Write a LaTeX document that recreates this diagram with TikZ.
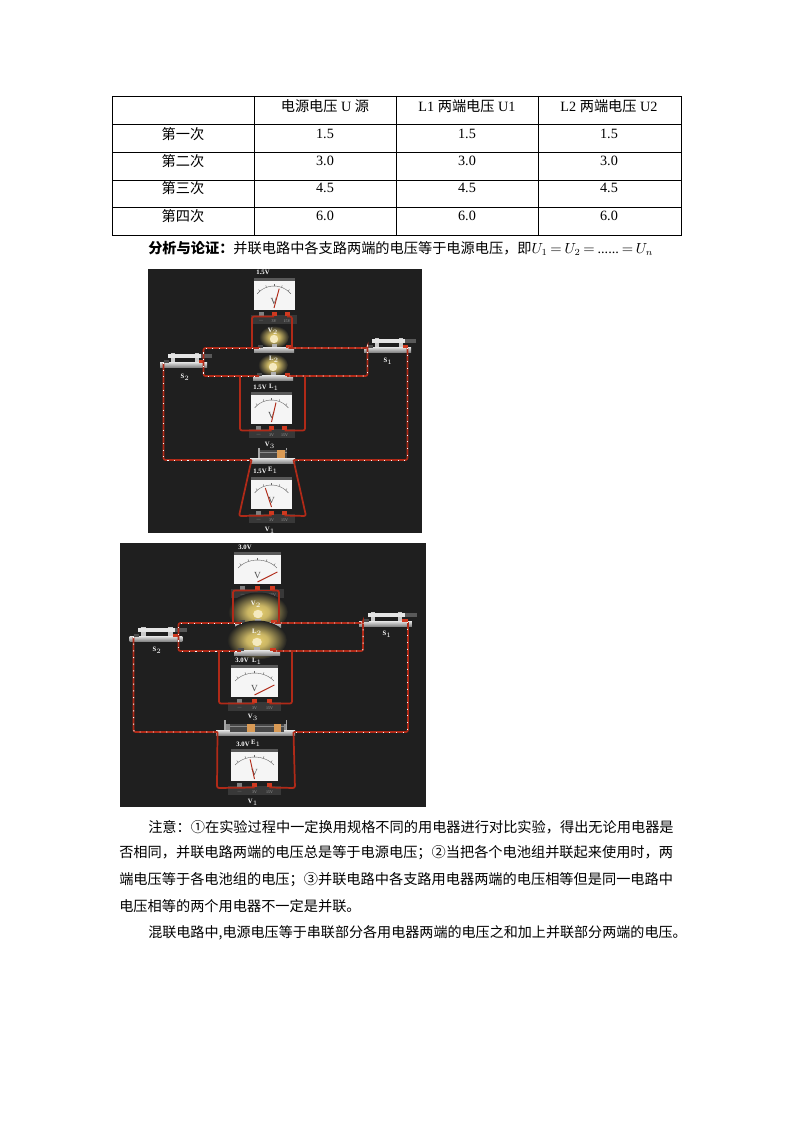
\documentclass[tikz,border=0pt]{standalone}
\usepackage{fontspec}
\setmainfont{Liberation Serif}
\newfontfamily\cjk{Noto Sans CJK SC}
\usepackage{tikz}
\definecolor{boardbg}{HTML}{1F1F1F}
\definecolor{wirered}{HTML}{B02A18}
\definecolor{termred}{HTML}{D03A20}
\definecolor{glowyellow}{HTML}{E8D070}
\definecolor{caporange}{HTML}{D99A55}
\pgfdeclareradialshading{bulbglow}{\pgfpointorigin}{color(0bp)=(glowyellow); color(9bp)=(glowyellow!85!boardbg); color(25bp)=(boardbg); color(50bp)=(boardbg)}
\begin{document}
\begin{tikzpicture}[
		x=.75pt, y=-.75pt
		,cell/.style={font=\fontsize{10.65}{12}\selectfont, inner sep=0pt}
		,textline/.style={font=\fontsize{10.65}{12}\selectfont, inner sep=0pt, anchor=west}
		,lab/.style={font=\fontsize{5}{5}\selectfont\bfseries, text=white, inner sep=0pt}
		,dial/.style={font=\fontsize{3}{3}\selectfont, text=black!70, inner sep=0pt}
		,plate/.style={top color=black!10, bottom color=black!50}
		,wire/.style={draw=wirered, line width=1.3pt, rounded corners=1.5pt}
		,current/.style={wire, postaction={draw=white, line width=.7pt, dash pattern=on .8pt off 4.2pt}}
		,meter/.pic={
			\fill[black!65] (-20.5,-3) rectangle (20.5,0);
			\fill[black!4] (-20.5,0) rectangle (20.5,29);
			\draw[black!60, line width=.3pt] plot[domain=40:140, samples=12] ({22*cos(\x)},{27-22*sin(\x)});
			\foreach \t in {50,70,90,110,130}
				\draw[black!60, line width=.3pt] ({22*cos(\t)},{27-22*sin(\t)}) -- ({24*cos(\t)},{27-24*sin(\t)});
			\node[dial, font=\fontsize{7}{7}\selectfont] (-v) at (0,21) {V};
			\draw[wirered, line width=.7pt] (0,27) -- ++({20*cos(#1)},{-20*sin(#1)});
			\fill[black!78] (-23,33.5) rectangle (23,43);
			\fill[black!50] (-15.5,31) rectangle (-10.5,35);
			\fill[termred] (-2.5,31) rectangle (2.5,35);
			\fill[termred] (10.5,31) rectangle (15.5,35);
			\node[dial, text=black!35] (-a) at (-13,40) {---};
			\node[dial, text=black!35] (-b) at (0,40) {3V};
			\node[dial, text=black!35] (-c) at (13,40) {15V};
			\coordinate (-minus) at (-13,35.5);
			\coordinate (-mid) at (0,35.5);
			\coordinate (-plus) at (13,35.5);
		}
		,bulb/.pic={
			\shade[shading=bulbglow] (0,-10) ellipse ({#1} and {#1*.75});
			\fill[black!30] (-2.5,-3) rectangle (2.5,0);
			\fill[glowyellow!45!white] (0,-8) circle (4.2);
			\shade[plate] (-20,0) rectangle (20,5.5);
			\fill[black!70] (-16.5,-2) rectangle (-11.5,1);
			\fill[termred] (11.5,-2) rectangle (16.5,1);
			\coordinate (-l) at (-14,1);
			\coordinate (-r) at (14,1);
		}
		,switcher/.pic={
			\fill[black!65] (17,-8.5) rectangle (28,-4.5);
			\shade[plate] (-23.5,0) rectangle (23.5,5.5);
			\fill[black!20] (-13,-9) rectangle (-9,0);
			\fill[black!20] (11,-9) rectangle (15,0);
			\fill[black!10] (-16,-8.5) rectangle (17,-4.5);
			\fill[black!70] (-20,-2) rectangle (-15,1);
			\fill[termred] (15,-2) rectangle (20,1);
			\coordinate (-l) at (-20,1);
			\coordinate (-r) at (20,1);
		}
		,holder/.pic={
			\fill[black!45] (-#1+8,-6) rectangle (#1-8,0);
			\fill[black!35] (-#1+8,-10) rectangle (-#1+9.5,0);
			\fill[black!35] (#1-9.5,-10) rectangle (#1-8,0);
			\shade[plate] (-#1,0) rectangle (#1,5.5);
			\coordinate (-l) at (-#1+1.5,2);
			\coordinate (-r) at (#1-1.5,2);
		}
		,battcell/.pic={
			\fill[black!72] (-13.5,-4) rectangle (13.5,4);
			\fill[black!45] (-13.5,-2.5) rectangle (13.5,-.8);
			\fill[caporange] (3.5,-4) rectangle (11,4);
		}
	]
	\useasboundingbox (0,0) rectangle (794,1123);
	\fill[white] (0,0) rectangle (794,1123);

	% table
	\draw[line width=.6pt] (112,96) rectangle (681,235);
	\foreach \xpos in {254,396,538}
		\draw[line width=.6pt] (\xpos,96) -- (\xpos,235);
	\foreach \ypos in {124,152,180,207}
		\draw[line width=.6pt] (112,\ypos) -- (681,\ypos);
	\node[cell] (headA) at (325,106) {{\cjk 电源电压} U {\cjk 源}};
	\node[cell] (headB) at (467,106) {L1 {\cjk 两端电压} U1};
	\node[cell] (headC) at (609,106) {L2 {\cjk 两端电压} U2};
	\foreach \rowname/\ypos/\volt [count=\i] in {第一次/134/1.5,第二次/161/3.0,第三次/188/4.5,第四次/216/6.0} {
		\node[cell] (row\i) at (183,\ypos) {\cjk \rowname};
		\foreach \xpos [count=\j] in {325,467,609}
			\node[cell] (val\i\j) at (\xpos,\ypos) {\volt};
	}
	\node[textline] (result) at (148,248) {\thickmuskip=3.5mu {\cjk\bfseries 分析与论证：}{\cjk 并联电路中各支路两端的电压等于电源电压，即}$U_1=U_2=\mbox{......}=U_n$};

	% first board
	\fill[boardbg] (148,269) rectangle (422,533);
	\pic (VT) at (274,281) {meter=75};
	\pic (VM) at (271.5,395) {meter=77};
	\pic (VB) at (271.5,480) {meter=108};
	\pic (LT) at (274,347) {bulb=15};
	\pic (LB) at (273,375) {bulb=15};
	\pic (SR) at (387.5,347) {switcher};
	\pic (SL) at (183.5,362) {switcher};
	\pic (HB) at (272.5,458) {holder=22.5};
	\pic (CB) at (273.5,454) {battcell};
	\coordinate (tapTL) at (252,348);
	\coordinate (tapTR) at (292,348);
	\coordinate (tapML) at (240,376);
	\coordinate (tapMR) at (305,376);
	\coordinate (bendBL) at (239,516);
	\coordinate (bendBR) at (306,516);
	\draw[wire] (tapTL) |- (VT-mid);
	\draw[wire] (tapTR) |- (VT-plus);
	\draw[wire] (tapML) |- (VM-mid);
	\draw[wire] (tapMR) |- (VM-plus);
	\draw[wire] (HB-l) -- (bendBL) -- (VB-mid);
	\draw[wire] (HB-r) -- (bendBR) -- (VB-plus);
	\draw[current] (LT-l) -| (SL-r) |- (LB-l);
	\draw[current] (LT-r) -| (SR-l) |- (LB-r);
	\draw[current] (SL-l) |- (HB-l);
	\draw[current] (SR-r) |- (HB-r);
	\node[lab] (volt1) at (263,272) {1.5V};
	\node[lab] (tagVa) at (273,331) {V$_2$};
	\node[lab] (tagLa) at (274,359) {L$_2$};
	\node[lab] (voltLa) at (260,387) {1.5V};
	\node[lab] (tagLb) at (274,387) {L$_1$};
	\node[lab] (tagVb) at (270,445) {V$_3$};
	\node[lab] (voltEa) at (260,471) {1.5V};
	\node[lab] (tagEa) at (273,470) {E$_1$};
	\node[lab] (tagVc) at (270,530) {V$_1$};
	\node[lab] (tagSa) at (388,361) {S$_1$};
	\node[lab] (tagSb) at (185,377) {S$_2$};

	% second board
	\fill[boardbg] (120,543) rectangle (426,807);
	\pic[xscale=1.15] (VTx) at (257.5,555) {meter=30};
	\pic[xscale=1.15] (VMx) at (254.5,668) {meter=30};
	\pic[xscale=1.15] (VBx) at (254.5,752) {meter=101};
	\pic[xscale=1.15] (LTx) at (258,622) {bulb=26};
	\pic[xscale=1.15] (LBx) at (257,650) {bulb=26};
	\pic[xscale=1.12] (SRx) at (385.5,621) {switcher};
	\pic[xscale=1.12] (SLx) at (156,636) {switcher};
	\pic (HBx) at (255.5,730) {holder=39.5};
	\pic (CBa) at (243.5,728) {battcell};
	\pic (CBb) at (270,728) {battcell};
	\coordinate (tapTLx) at (233,622);
	\coordinate (tapTRx) at (279,622);
	\coordinate (tapMLx) at (219,650);
	\coordinate (tapMRx) at (292,650);
	\coordinate (bendBLx) at (217,788);
	\coordinate (bendBRx) at (295,788);
	\draw[wire] (tapTLx) |- (VTx-mid);
	\draw[wire] (tapTRx) |- (VTx-plus);
	\draw[wire] (tapTLx |- VTx-mid) -- (tapTRx |- VTx-plus);
	\draw[wire] (tapMLx) |- (VMx-mid);
	\draw[wire] (tapMRx) |- (VMx-plus);
	\draw[wire] (HBx-l) -- (bendBLx) -- (VBx-mid);
	\draw[wire] (HBx-r) -- (bendBRx) -- (VBx-plus);
	\draw[current] (LTx-l) -| (SLx-r) |- (LBx-l);
	\draw[current] (LTx-r) -| (SRx-l) |- (LBx-r);
	\draw[current] (SLx-l) |- (HBx-l);
	\draw[current] (SRx-r) |- (HBx-r);
	\node[lab] (volt2) at (245,547) {3.0V};
	\node[lab] (tagVd) at (256,604) {V$_2$};
	\node[lab] (tagLc) at (257,632) {L$_2$};
	\node[lab] (voltLb) at (242,660) {3.0V};
	\node[lab] (tagLd) at (257,661) {L$_1$};
	\node[lab] (tagVe) at (253,717) {V$_3$};
	\node[lab] (voltEb) at (243,744) {3.0V};
	\node[lab] (tagEb) at (256,743) {E$_1$};
	\node[lab] (tagVf) at (253,802) {V$_1$};
	\node[lab] (tagSc) at (387,634) {S$_1$};
	\node[lab] (tagSd) at (157,650) {S$_2$};

	% notes below the boards
	\node[textline] (noteA) at (148,827) {\cjk 注意：①在实验过程中一定换用规格不同的用电器进行对比实验，得出无论用电器是};
	\node[textline] (noteB) at (119,853) {\cjk 否相同，并联电路两端的电压总是等于电源电压；②当把各个电池组并联起来使用时，两};
	\node[textline] (noteC) at (119,880) {\cjk 端电压等于各电池组的电压；③并联电路中各支路用电器两端的电压相等但是同一电路中};
	\node[textline] (noteD) at (119,906) {\cjk 电压相等的两个用电器不一定是并联。};
	\node[textline, font=\fontsize{10.55}{12}\selectfont] (noteE) at (148,933) {\cjk 混联电路中,电源电压等于串联部分各用电器两端的电压之和加上并联部分两端的电压。};
\end{tikzpicture}
\end{document}
